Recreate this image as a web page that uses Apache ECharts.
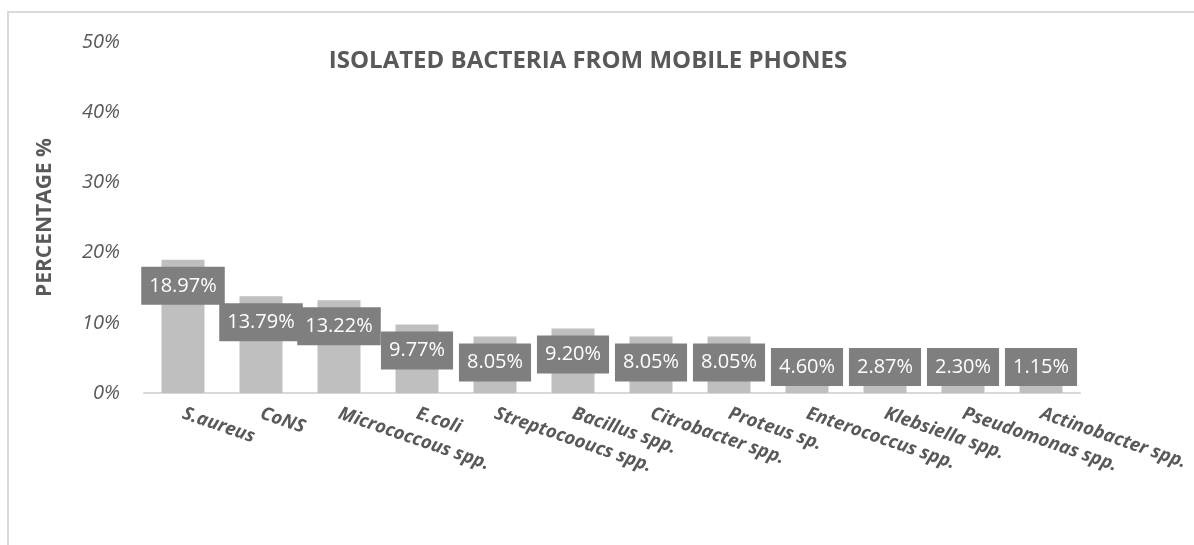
<!DOCTYPE html>
<html>
<head>
<meta charset="utf-8">
<script src="https://cdn.jsdelivr.net/npm/echarts@6/dist/echarts.min.js"></script>
<style>
html,body{margin:0;padding:0;background:#fff;}
#chart{width:1194px;height:545px;}
</style>
</head>
<body>
<div id="chart"></div>
<script>
const categories = ["S.aureus", "CoNS", "Micrococcous spp.", "E.coli", "Streptocooucs spp.", "Bacillus spp.", "Citrobacter spp.", "Proteus sp.", "Enterococcus spp.", "Klebsiella spp.", "Pseudomonas spp.", "Actinobacter spp."];
const percentages = [18.97, 13.79, 13.22, 9.77, 8.05, 9.20, 8.05, 8.05, 4.60, 2.87, 2.30, 1.15];
const yTicks = [0, 10, 20, 30, 40, 50];

const FONT = "'Open Sans', 'DejaVu Sans', sans-serif";
const chart = echarts.init(document.getElementById('chart'), null, {renderer: 'canvas'});

const seriesData = percentages.map(v => ({
  value: v,
  label: v >= 7 ? {position: 'insideTop', distance: 7} : {position: 'insideBottom', distance: 7}
}));

chart.setOption({
  animation: false,
  backgroundColor: '#ffffff',
  graphic: [{
    type: 'rect',
    shape: {x: 8, y: 12, width: 1400, height: 800},
    style: {fill: 'none', stroke: '#d9d9d9', lineWidth: 2},
    silent: true
  }],
  title: {
    text: 'ISOLATED BACTERIA FROM MOBILE PHONES',
    left: 583, top: 44, textAlign: 'center',
    textStyle: {fontFamily: FONT, fontWeight: 'bold', fontSize: 24, color: '#595959'}
  },
  grid: {left: 144, right: 114, top: 42, bottom: 152, containLabel: false},
  xAxis: {
    type: 'category',
    data: categories,
    axisLine: {show: true, lineStyle: {color: '#d9d9d9', width: 2}},
    axisTick: {show: false},
    axisLabel: {
      interval: 0, rotate: -19, margin: 20,
      fontFamily: FONT, fontSize: 18.5, fontWeight: 'bold', fontStyle: 'italic', color: '#595959'
    }
  },
  yAxis: {
    type: 'value',
    min: yTicks[0], max: yTicks[yTicks.length - 1], interval: 10,
    name: 'PERCENTAGE %', nameLocation: 'middle', nameGap: 88, nameRotate: 90,
    nameTextStyle: {fontFamily: FONT, fontWeight: 'bold', fontSize: 21, color: '#595959'},
    axisLine: {show: false},
    axisTick: {show: false},
    splitLine: {show: false},
    axisLabel: {
      margin: 24, formatter: '{value}%',
      fontFamily: FONT, fontSize: 20, fontStyle: 'italic', color: '#595959'
    }
  },
  series: [{
    type: 'bar',
    data: seriesData,
    barWidth: 43,
    itemStyle: {color: '#bfbfbf'},
    label: {
      show: true,
      formatter: p => p.value.toFixed(2) + '%',
      backgroundColor: '#7f7f7f',
      color: '#ffffff',
      fontFamily: FONT, fontSize: 20,
      padding: [9, 8, 9, 8]
    }
  }]
});
</script>
</body>
</html>
